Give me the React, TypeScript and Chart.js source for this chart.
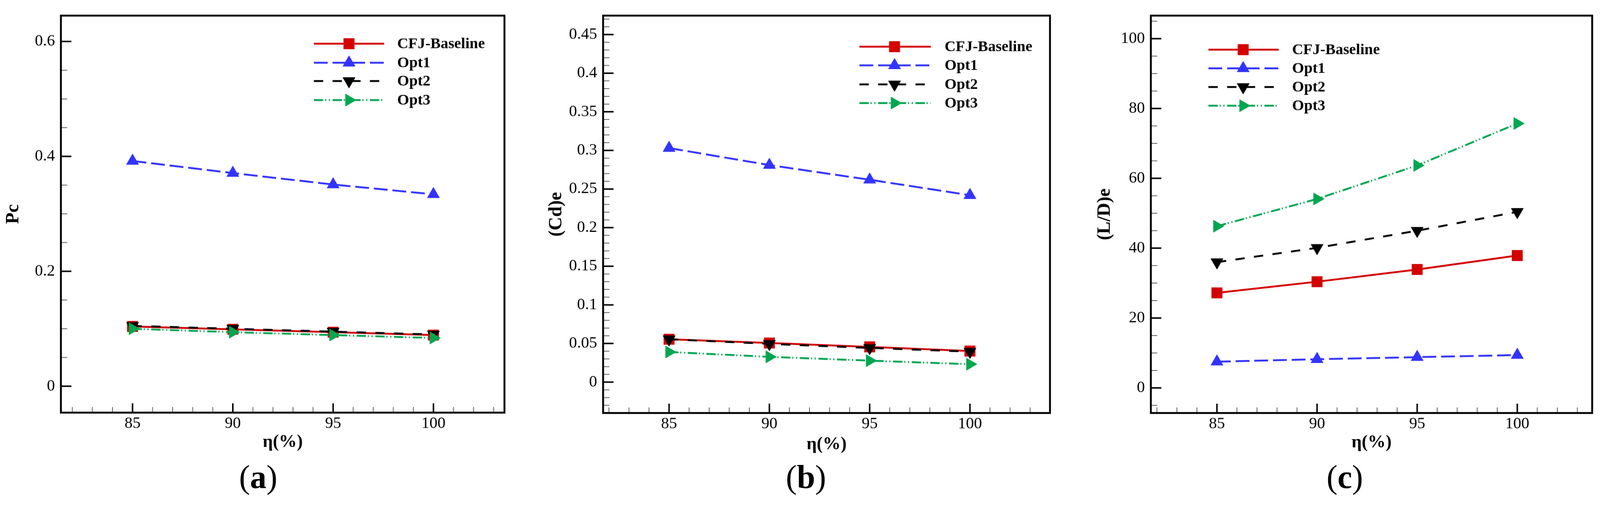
import { useEffect, useRef } from "react";
import { Chart, registerables } from "chart.js";
import { drawPoint } from "chart.js/helpers";

Chart.register(...registerables);

// η (%) sample points, shared by all three panels
const etaPct = [85, 90, 95, 100];
const seriesNames = ["CFJ-Baseline", "Opt1", "Opt2", "Opt3"];

// (a) Pc
const pcBaseline = [0.104, 0.099, 0.094, 0.089];
const pcOpt1 = [0.392, 0.371, 0.351, 0.334];
const pcOpt2 = [0.105, 0.1, 0.095, 0.09];
const pcOpt3 = [0.1, 0.094, 0.089, 0.084];

// (b) (Cd)e
const cdBaseline = [0.0555, 0.0506, 0.0456, 0.0402];
const cdOpt1 = [0.303, 0.281, 0.262, 0.242];
const cdOpt2 = [0.0555, 0.0495, 0.0443, 0.0394];
const cdOpt3 = [0.039, 0.0327, 0.0278, 0.0232];

// (c) (L/D)e
const ldBaseline = [27.2, 30.4, 33.9, 37.9];
const ldOpt1 = [7.5, 8.2, 8.8, 9.4];
const ldOpt2 = [36.0, 40.1, 45.0, 50.4];
const ldOpt3 = [46.3, 54.1, 63.7, 75.7];

// tick labels
const xMajor = [85, 90, 95, 100];
const yMajorA = [0, 0.2, 0.4, 0.6];
const yMajorB = [0, 0.05, 0.1, 0.15, 0.2, 0.25, 0.3, 0.35, 0.4, 0.45];
const yMajorC = [0, 20, 40, 60, 80, 100];

const FONT = "'Liberation Serif', 'Times New Roman', serif";
const PAGE_W = 4282;
const PAGE_H = 1350;

const lineStyles = [
  { color: "#d40000", dash: [] as number[], point: "rect", rot: 0, r: 20 },
  { color: "#3333ff", dash: [37, 13], point: "triangle", rot: 0, r: 19 },
  { color: "#000000", dash: [25, 25], point: "triangle", rot: 180, r: 19 },
  { color: "#00a651", dash: [25, 5, 3, 7, 3, 7], point: "triangle", rot: 90, r: 19 },
];

type Panel = {
  key: string;
  left: number;
  width: number;
  height: number;
  pad: { left: number; right: number; top: number };
  yWidth: number;
  xHeight: number;
  xMin: number;
  xMax: number;
  yMin: number;
  yMax: number;
  yMajor: number[];
  yMinor: number;
  yTitle: string;
  series: number[][];
  legend: { x0: number; x1: number; xm: number; xt: number; rows: number[] };
  caption: number;
};

const panels: Panel[] = [
  {
    key: "a",
    left: 0,
    width: 1427,
    height: 1217,
    pad: { left: 2, right: 77, top: 26 },
    yWidth: 161,
    xHeight: 112,
    xMin: 81.43,
    xMax: 103.54,
    yMin: -0.046,
    yMax: 0.645,
    yMajor: yMajorA,
    yMinor: 0.05,
    yTitle: "Pc",
    series: [pcBaseline, pcOpt1, pcOpt2, pcOpt3],
    legend: { x0: 840, x1: 1028, xm: 934, xt: 1063, rows: [117, 168, 217, 268] },
    caption: 691,
  },
  {
    key: "b",
    left: 1427,
    width: 1428,
    height: 1223,
    pad: { left: 28, right: 45, top: 36 },
    yWidth: 159,
    xHeight: 117,
    xMin: 81.71,
    xMax: 103.99,
    yMin: -0.04,
    yMax: 0.4745,
    yMajor: yMajorB,
    yMinor: 0.01,
    yTitle: "(Cd)e",
    series: [cdBaseline, cdOpt1, cdOpt2, cdOpt3],
    legend: { x0: 873, x1: 1064, xm: 967, xt: 1101, rows: [125, 175, 226, 276] },
    caption: 2157,
  },
  {
    key: "c",
    left: 2855,
    width: 1427,
    height: 1218,
    pad: { left: 68, right: 20, top: 31 },
    yWidth: 157,
    xHeight: 112,
    xMin: 81.7,
    xMax: 103.74,
    yMin: -7.2,
    yMax: 106.6,
    yMajor: yMajorC,
    yMinor: 5,
    yTitle: "(L/D)e",
    series: [ldBaseline, ldOpt1, ldOpt2, ldOpt3],
    legend: { x0: 379, x1: 567, xm: 472, xt: 603, rows: [133, 183, 233, 283] },
    caption: 3599,
  },
];

function minorValues(min: number, max: number, step: number) {
  const out: number[] = [];
  for (let k = Math.ceil(min / step - 1e-9); k * step <= max + 1e-9; k++) out.push(k * step);
  return out;
}

function isMajor(v: number, majors: number[], step: number) {
  return majors.some((m) => Math.abs(m - v) < step / 10);
}

// frame box + inward Tecplot-style ticks, positioned by the chart's scales
function framePlugin(p: Panel) {
  return {
    id: "frame-" + p.key,
    afterDatasetsDraw(chart: Chart) {
      const { ctx, chartArea: a, scales } = chart;
      const xs = scales.x;
      const ys = scales.y;
      ctx.save();
      ctx.setLineDash([]);
      ctx.lineCap = "butt";
      // minor ticks
      ctx.strokeStyle = "#555";
      ctx.lineWidth = 2;
      ctx.beginPath();
      for (const v of minorValues(p.yMin, p.yMax, p.yMinor)) {
        if (isMajor(v, p.yMajor, p.yMinor)) continue;
        const y = ys.getPixelForValue(v);
        ctx.moveTo(a.left, y);
        ctx.lineTo(a.left + 17, y);
      }
      for (const v of minorValues(p.xMin, p.xMax, 1)) {
        if (isMajor(v, xMajor, 1)) continue;
        const x = xs.getPixelForValue(v);
        ctx.moveTo(x, a.bottom);
        ctx.lineTo(x, a.bottom - 15);
      }
      ctx.stroke();
      // major ticks
      ctx.strokeStyle = "#000";
      ctx.lineWidth = 4;
      ctx.beginPath();
      for (const v of p.yMajor) {
        const y = ys.getPixelForValue(v);
        ctx.moveTo(a.left, y);
        ctx.lineTo(a.left + 28, y);
      }
      for (const v of xMajor) {
        const x = xs.getPixelForValue(v);
        ctx.moveTo(x, a.bottom);
        ctx.lineTo(x, a.bottom - 25);
      }
      ctx.stroke();
      // frame
      ctx.lineWidth = 5;
      ctx.strokeRect(a.left, a.top, a.right - a.left, a.bottom - a.top);
      ctx.restore();
    },
  };
}

function legendPlugin(p: Panel) {
  return {
    id: "legend-" + p.key,
    afterDraw(chart: Chart) {
      const { ctx } = chart;
      const L = p.legend;
      ctx.save();
      seriesNames.forEach((name, i) => {
        const s = lineStyles[i];
        const y = L.rows[i];
        ctx.strokeStyle = s.color;
        ctx.lineWidth = 5;
        ctx.setLineDash(s.dash);
        ctx.beginPath();
        ctx.moveTo(L.x0, y);
        ctx.lineTo(L.x1, y);
        ctx.stroke();
        ctx.setLineDash([]);
        ctx.fillStyle = s.color;
        ctx.strokeStyle = s.color;
        ctx.lineWidth = 1;
        drawPoint(ctx, { pointStyle: s.point as any, rotation: s.rot, radius: s.r, borderWidth: 1 }, L.xm, y);
        ctx.fillStyle = "#000";
        ctx.font = `bold 41px ${FONT}`;
        ctx.textAlign = "left";
        ctx.textBaseline = "middle";
        ctx.fillText(name, L.xt, y + 1);
      });
      ctx.restore();
    },
  };
}

function PanelChart({ p }: { p: Panel }) {
  const ref = useRef<HTMLCanvasElement>(null);

  useEffect(() => {
    if (!ref.current) return;
    const chart = new Chart(ref.current, {
      type: "line",
      data: {
        datasets: p.series.map((vals, i) => {
          const s = lineStyles[i];
          return {
            label: seriesNames[i],
            data: etaPct.map((x, j) => ({ x, y: vals[j] })),
            borderColor: s.color,
            backgroundColor: s.color,
            borderWidth: 5,
            borderDash: s.dash,
            pointStyle: s.point as any,
            pointRotation: s.rot,
            pointRadius: s.r,
            pointBackgroundColor: s.color,
            pointBorderColor: s.color,
            pointBorderWidth: 1,
            tension: 0,
            fill: false,
            order: 3 - i,
          };
        }),
      },
      options: {
        animation: false,
        responsive: false,
        layout: { padding: { left: p.pad.left, right: p.pad.right, top: p.pad.top, bottom: 0 } },
        plugins: { legend: { display: false }, tooltip: { enabled: false } },
        scales: {
          x: {
            type: "linear",
            min: p.xMin,
            max: p.xMax,
            afterBuildTicks: (s: any) => {
              s.ticks = xMajor.map((v) => ({ value: v }));
            },
            afterFit: (s: any) => {
              s.height = p.xHeight;
            },
            grid: { display: false, drawTicks: false },
            border: { display: false },
            ticks: {
              color: "#000",
              font: { family: FONT, size: 43 },
              padding: 4,
              maxRotation: 0,
              autoSkip: false,
              callback: (v: any) => String(v),
            },
            title: {
              display: true,
              text: "η(%)",
              color: "#000",
              font: { family: FONT, size: 48, weight: "bold" },
              padding: { top: 4, bottom: 4 },
            },
          },
          y: {
            type: "linear",
            min: p.yMin,
            max: p.yMax,
            afterBuildTicks: (s: any) => {
              s.ticks = p.yMajor.map((v) => ({ value: v }));
            },
            afterFit: (s: any) => {
              s.width = p.yWidth;
            },
            grid: { display: false, drawTicks: false },
            border: { display: false },
            ticks: {
              color: "#000",
              font: { family: FONT, size: 43 },
              padding: 16,
              autoSkip: false,
              callback: (v: any) => String(v),
            },
            title: {
              display: true,
              text: p.yTitle,
              color: "#000",
              font: { family: FONT, size: 50, weight: "bold" },
              padding: { top: 4, bottom: 4 },
            },
          },
        },
      },
      plugins: [framePlugin(p), legendPlugin(p)],
    });
    return () => chart.destroy();
  }, [p]);

  return (
    <canvas
      ref={ref}
      width={p.width}
      height={p.height}
      style={{ position: "absolute", left: p.left, top: 0, width: p.width, height: p.height }}
    />
  );
}

export default function App() {
  // the browser may give a narrower viewport than the page; fit the whole figure into it
  let scale = Math.min(window.innerWidth / PAGE_W, window.innerHeight / PAGE_H);
  if (Math.abs(scale - 1) < 0.004) scale = 1;

  useEffect(() => {
    document.documentElement.style.overflow = "hidden";
    document.body.style.overflow = "hidden";
  }, []);

  return (
    <div
      style={{
        position: "absolute",
        left: 0,
        top: 0,
        width: PAGE_W,
        height: PAGE_H,
        background: "#fff",
        overflow: "hidden",
        transform: scale === 1 ? undefined : `scale(${scale})`,
        transformOrigin: "0 0",
      }}
    >
      {panels.map((p) => (
        <PanelChart key={p.key} p={p} />
      ))}
      {panels.map((p) => (
        <div
          key={"cap-" + p.key}
          style={{
            position: "absolute",
            left: p.caption,
            top: 1234,
            transform: "translateX(-50%)",
            fontFamily: FONT,
            fontSize: 88,
            lineHeight: 1,
            color: "#000",
            whiteSpace: "nowrap",
          }}
        >
          (<b>{p.key}</b>)
        </div>
      ))}
    </div>
  );
}
